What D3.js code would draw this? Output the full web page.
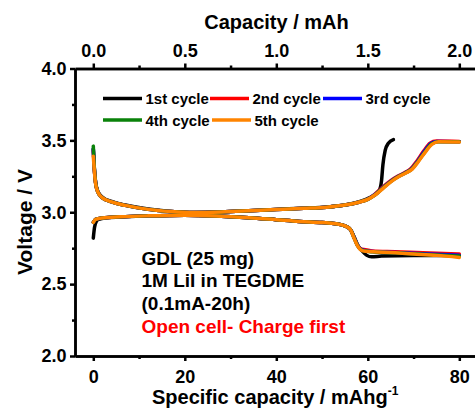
<!DOCTYPE html>
<html>
<head>
  <meta charset="utf-8">
  <script src="https://d3js.org/d3.v7.min.js"></script>
  <style>
    body { margin: 0; background: #fff; }
    text { font-family: "Liberation Sans", Arial, sans-serif; font-weight: bold; }
    .axis path, .axis line { stroke: #000; stroke-width: 2.5; }
    .axis text { font-size: 18px; fill: #000; font-family: "Liberation Sans", Arial, sans-serif; font-weight: bold; }
    .minor text { display: none; }
  </style>
</head>
<body>
  <svg width="475" height="408"></svg>
  <script>
    // data: [specific capacity (mAh/g), voltage (V)]
    var cycleNames = ["1st cycle", "2nd cycle", "3rd cycle", "4th cycle", "5th cycle"];
    var cycleColors = ["#000000", "#ff0000", "#0000ff", "#0a820a", "#ff8400"];

    var charge1 = [[0,3.44],[0.2,3.32],[0.5,3.21],[1,3.145],[2,3.105],[4,3.075],[7,3.05],[12,3.022],[17,3.006],[22,2.999],[28,3.003],[34,3.011],[40,3.02],[46,3.028],[51,3.036],[55,3.05],[58,3.072],[60,3.095],[61.5,3.12],[62.5,3.15],[63,3.22],[63.3,3.33],[63.8,3.43],[64.5,3.48],[65.6,3.505]];
    var discharge1 = [[0,2.82],[0.3,2.9],[1,2.948],[3,2.962],[7,2.969],[12,2.975],[20,2.98],[28,2.972],[34,2.962],[40,2.948],[45,2.936],[50,2.928],[53,2.92],[55,2.905],[56.2,2.88],[57,2.83],[57.8,2.77],[58.8,2.73],[59.8,2.70],[60.8,2.69],[63,2.695],[70,2.70],[80,2.70]];

    var charge2 = [[0,3.43],[0.2,3.31],[0.5,3.205],[1,3.14],[2,3.1],[4,3.072],[7,3.048],[12,3.02],[17,3.005],[22,2.998],[28,3.002],[34,3.01],[40,3.019],[46,3.027],[51,3.035],[55,3.05],[58,3.07],[60,3.09],[61.5,3.125],[63,3.168],[65,3.22],[66.5,3.25],[68,3.275],[69.3,3.30],[70.7,3.355],[72.2,3.425],[73.6,3.48],[75,3.495],[80,3.492]];
    var discharge2 = [[0,2.93],[0.5,2.95],[2,2.96],[6,2.968],[12,2.975],[20,2.98],[28,2.972],[34,2.962],[40,2.948],[45,2.936],[50,2.928],[53,2.92],[55,2.905],[56.2,2.88],[57,2.825],[57.7,2.775],[58.5,2.745],[59.5,2.74],[61,2.73],[66,2.725],[72,2.718],[80,2.71]];

    var charge3 = [[0,3.44],[0.2,3.31],[0.5,3.205],[1,3.14],[2,3.1],[4,3.072],[7,3.048],[12,3.02],[17,3.005],[22,2.998],[28,3.002],[34,3.01],[40,3.019],[46,3.027],[51,3.035],[55,3.05],[58,3.07],[60,3.09],[61.6,3.125],[63.2,3.168],[65.2,3.22],[66.7,3.25],[68.2,3.275],[69.5,3.30],[70.9,3.355],[72.4,3.425],[73.8,3.478],[75.2,3.493],[80,3.49]];
    var discharge3 = [[0,2.93],[0.5,2.95],[2,2.96],[6,2.968],[12,2.975],[20,2.98],[28,2.972],[34,2.962],[40,2.948],[45,2.936],[50,2.928],[53,2.92],[55,2.905],[56.2,2.88],[57,2.825],[57.7,2.775],[58.5,2.742],[59.5,2.733],[61,2.727],[66,2.72],[72,2.712],[80,2.70]];

    var charge4 = [[0,3.46],[0.2,3.32],[0.5,3.205],[1,3.14],[2,3.1],[4,3.072],[7,3.048],[12,3.02],[17,3.005],[22,2.998],[28,3.002],[34,3.01],[40,3.019],[46,3.027],[51,3.035],[55,3.05],[58,3.07],[60,3.09],[61.7,3.125],[63.3,3.168],[65.3,3.22],[66.8,3.25],[68.3,3.275],[69.6,3.30],[71,3.355],[72.5,3.42],[73.9,3.475],[75.4,3.491],[80,3.49]];
    var discharge4 = [[0,2.93],[0.5,2.95],[2,2.96],[6,2.968],[12,2.975],[20,2.98],[28,2.972],[34,2.962],[40,2.948],[45,2.936],[50,2.928],[53,2.92],[55,2.905],[56.2,2.88],[57,2.822],[57.7,2.772],[58.5,2.74],[59.5,2.73],[61,2.725],[66,2.718],[72,2.708],[80,2.695]];

    var charge5 = [[0,3.39],[0.2,3.3],[0.5,3.2],[1,3.14],[2,3.1],[4,3.072],[7,3.048],[12,3.02],[17,3.005],[22,2.998],[28,3.002],[34,3.01],[40,3.019],[46,3.027],[51,3.035],[55,3.05],[58,3.07],[60,3.09],[61.8,3.125],[63.4,3.168],[65.4,3.22],[66.9,3.25],[68.4,3.275],[69.7,3.30],[71.1,3.355],[72.6,3.42],[74,3.472],[75.5,3.49],[80,3.488]];
    var discharge5 = [[0,2.93],[0.5,2.95],[2,2.96],[6,2.968],[12,2.975],[20,2.98],[28,2.972],[34,2.962],[40,2.948],[45,2.936],[50,2.928],[53,2.92],[55,2.905],[56.2,2.88],[57,2.82],[57.7,2.77],[58.5,2.738],[59.5,2.728],[62,2.724],[66,2.718],[70,2.71],[75,2.70],[80,2.686]];

    var chargeSeries = [charge1, charge2, charge3, charge4, charge5];
    var dischargeSeries = [discharge1, discharge2, discharge3, discharge4, discharge5];

    var xTicks = [0, 20, 40, 60, 80];
    var xMinor = [10, 30, 50, 70];
    var topTicks = [0, 0.5, 1.0, 1.5, 2.0];
    var topMinor = [0.25, 0.75, 1.25, 1.75];
    var yTicks = [2.0, 2.5, 3.0, 3.5, 4.0];
    var yMinor = [2.25, 2.75, 3.25, 3.75];
    var notes = ["GDL (25 mg)", "1M LiI in TEGDME", "(0.1mA-20h)", "Open cell- Charge first"];
    var massG = 0.025; // 25 mg electrode -> mAh = mAh/g * g

    var svg = d3.select("svg");
    var plotLeft = 75, plotRight = 475, plotTop = 68.5, plotBottom = 356;

    var x = d3.scaleLinear().domain([-4, 83.43]).range([plotLeft, plotRight]);
    var xTop = d3.scaleLinear().domain([-4 * massG, 83.43 * massG]).range([plotLeft, plotRight]);
    var y = d3.scaleLinear().domain([2.0, 4.0]).range([plotBottom, plotTop]);

    // minor ticks first
    svg.append("g").attr("class", "axis minor").attr("transform", "translate(0," + plotBottom + ")")
      .call(d3.axisBottom(x).tickValues(xMinor).tickSize(3).tickSizeOuter(0));
    svg.append("g").attr("class", "axis minor").attr("transform", "translate(0," + plotTop + ")")
      .call(d3.axisTop(xTop).tickValues(topMinor).tickSize(3).tickSizeOuter(0));
    svg.append("g").attr("class", "axis minor").attr("transform", "translate(" + plotLeft + ",0)")
      .call(d3.axisLeft(y).tickValues(yMinor).tickSize(3).tickSizeOuter(0));

    svg.append("g").attr("class", "axis").attr("transform", "translate(0," + plotBottom + ")")
      .call(d3.axisBottom(x).tickValues(xTicks).tickSize(5).tickSizeOuter(0).tickPadding(9.5));
    svg.append("g").attr("class", "axis").attr("transform", "translate(0," + plotTop + ")")
      .call(d3.axisTop(xTop).tickValues(topTicks).tickSize(5).tickSizeOuter(0).tickPadding(6.5)
        .tickFormat(d3.format(".1f")));
    svg.append("g").attr("class", "axis").attr("transform", "translate(" + plotLeft + ",0)")
      .call(d3.axisLeft(y).tickValues(yTicks).tickSize(5).tickSizeOuter(0).tickPadding(3.5)
        .tickFormat(d3.format(".1f")));
    svg.selectAll(".axis text").attr("font-family", null).attr("font-size", null);

    // axis titles
    svg.append("text").attr("x", 276.5).attr("y", 29).attr("text-anchor", "middle")
      .style("font-size", "20px").text("Capacity / mAh");
    var bt = svg.append("text").attr("x", 152).attr("y", 404).style("font-size", "20px");
    bt.append("tspan").text("Specific capacity / mAhg");
    bt.append("tspan").attr("dy", -9).style("font-size", "12px").text("-1");
    svg.append("text").attr("transform", "translate(32,222) rotate(-90)")
      .attr("text-anchor", "middle").style("font-size", "21px").text("Voltage / V");

    // curves
    var line = d3.line().x(d => x(d[0])).y(d => y(d[1])).curve(d3.curveMonotoneX);
    var curves = svg.append("g").attr("fill", "none").attr("stroke-width", 3.5)
      .attr("stroke-linejoin", "round").attr("stroke-linecap", "round");
    cycleNames.forEach(function(name, i) {
      curves.append("path").attr("d", line(chargeSeries[i])).attr("stroke", cycleColors[i]);
      curves.append("path").attr("d", line(dischargeSeries[i])).attr("stroke", cycleColors[i]);
    });

    // legend
    var legendPos = [[103, 98.5], [210, 98.5], [323, 98.5], [103, 120], [212, 120]];
    var legend = svg.append("g");
    cycleNames.forEach(function(name, i) {
      var p = legendPos[i];
      legend.append("line").attr("x1", p[0]).attr("x2", p[0] + 39).attr("y1", p[1]).attr("y2", p[1])
        .attr("stroke", cycleColors[i]).attr("stroke-width", 3.5);
      legend.append("text").attr("x", p[0] + 42.5).attr("y", p[1] + 5.5)
        .style("font-size", "15px").text(name);
    });

    // annotation
    var noteY = [264.5, 287, 309.5, 332.5];
    notes.forEach(function(t, i) {
      svg.append("text").attr("x", 141.5).attr("y", noteY[i]).style("font-size", "19px")
        .attr("fill", i === 3 ? "#ff0000" : "#000").text(t);
    });
  </script>
</body>
</html>
